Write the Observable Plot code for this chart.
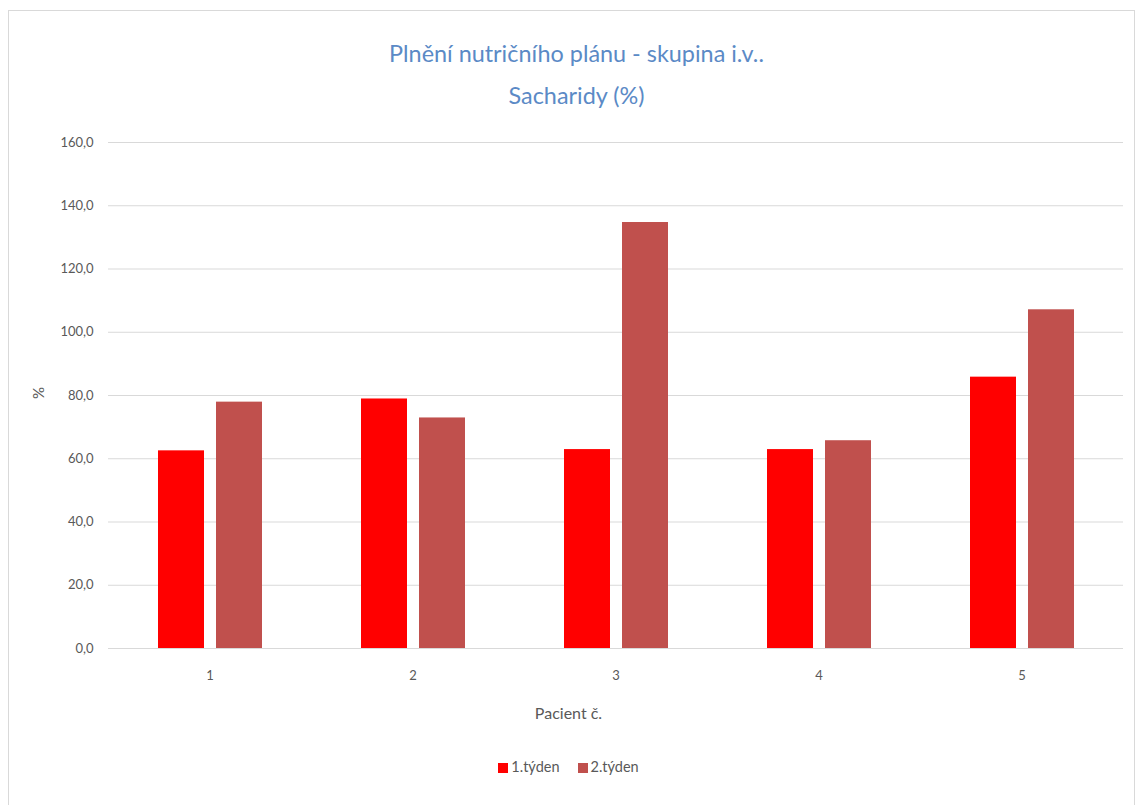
<!DOCTYPE html>
<html>
<head>
<meta charset="utf-8">
<script src="https://cdn.jsdelivr.net/npm/d3@7"></script>
<script src="https://cdn.jsdelivr.net/npm/@observablehq/plot@0.6"></script>
<style>
  html, body { margin: 0; padding: 0; background: #fff; }
  body { width: 1137px; height: 805px; position: relative; overflow: hidden; font-family: Lato, "Open Sans", sans-serif; }
  #frame { position: absolute; left: 8px; top: 10px; width: 1127px; height: 810px; border: 1px solid #d9d9d9; box-sizing: border-box; }
  #title { position: absolute; left: 8px; top: 32px; width: 1137px; text-align: center; color: #5b8ac6; font-size: 23.4px; line-height: 42px; }
  #chart { position: absolute; left: 0; top: 120px; }
  .axis-title { position: absolute; color: #595959; font-size: 16px; }
  #xtitle { left: 0; top: 703px; width: 1137px; text-align: center; }
  #ytitle { left: 32px; top: 384px; transform: rotate(-90deg); font-size: 15px; }
  #legend { position: absolute; left: 0; top: 758px; width: 1137px; text-align: center; font-size: 14.5px; color: #595959; }
  #legend span.item { display: inline-block; margin: 0 9px; }
  #legend span.sw { display: inline-block; width: 10px; height: 10px; margin-right: 3px; vertical-align: -1px; }
</style>
</head>
<body>
<div id="frame"></div>
<div id="title">Plnění nutričního plánu - skupina i.v..<br>Sacharidy (%)</div>
<div id="chart"></div>
<div id="xtitle" class="axis-title">Pacient č.</div>
<div id="ytitle" class="axis-title">%</div>
<div id="legend"></div>
<script>
// Patients and weekly fulfilment of the carbohydrate plan (%)
const patients = ["1", "2", "3", "4", "5"];
const weeks = ["1.týden", "2.týden"];
const week1 = [62.5, 78.9, 62.9, 62.9, 85.8];
const week2 = [77.9, 72.9, 134.7, 65.7, 107.1];
const weekColors = ["#ff0000", "#c0504d"];
const yTicks = [0, 20, 40, 60, 80, 100, 120, 140, 160];

const rows = patients.flatMap((p, i) => [
  {patient: p, week: weeks[0], value: week1[i]},
  {patient: p, week: weeks[1], value: week2[i]}
]);

const fmt = d => d.toFixed(1).replace(".", ",");

const chart = Plot.plot({
  width: 1137,
  height: 608,
  marginTop: 22,
  marginBottom: 80,
  marginLeft: 108,
  marginRight: 14,
  style: {fontFamily: "Lato, 'Open Sans', sans-serif", fontSize: "13px", color: "#595959", background: "transparent"},
  fx: {domain: patients, padding: 0, label: null},
  x: {domain: weeks, paddingInner: 0.207, paddingOuter: 0.853, axis: null},
  y: {domain: [0, 160], ticks: yTicks, tickFormat: fmt, label: null},
  color: {domain: weeks, range: weekColors},
  marks: [
    Plot.gridY(yTicks, {stroke: "#d9d9d9", strokeOpacity: 1, strokeWidth: 1}),
    Plot.barY(rows, {fx: "patient", x: "week", y: "value", fill: "week"}),
    Plot.axisY(yTicks, {tickFormat: fmt, tickSize: 0, tickPadding: 15, fontSize: 13, fill: "#595959", label: null}),
    Plot.axisFx({anchor: "bottom", tickSize: 0, tickPadding: 22, fontSize: 13, fill: "#595959", label: null})
  ]
});
document.getElementById("chart").appendChild(chart);

// Legend below the chart
const legend = document.getElementById("legend");
weeks.forEach((w, i) => {
  const item = document.createElement("span");
  item.className = "item";
  item.innerHTML = `<span class="sw" style="background:${weekColors[i]}"></span>${w}`;
  legend.appendChild(item);
});
</script>
</body>
</html>
